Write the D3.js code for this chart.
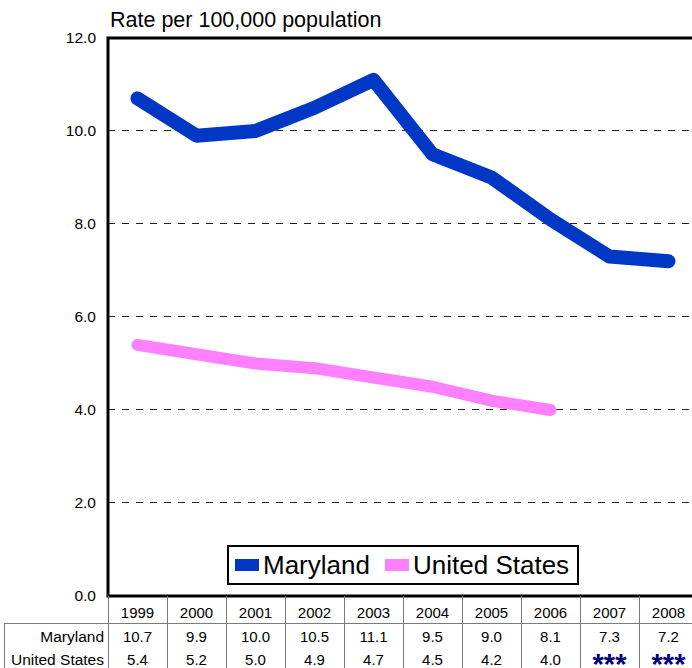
<!DOCTYPE html>
<html>
<head>
<meta charset="utf-8">
<script src="https://cdn.jsdelivr.net/npm/d3@7"></script>
<style>
  html, body { margin: 0; padding: 0; background: #fff; }
  svg { display: block; font-family: "Liberation Sans", Arial, sans-serif; }
</style>
</head>
<body>
<svg id="chart" width="692" height="668"></svg>
<script>
// Data
const years = ["1999","2000","2001","2002","2003","2004","2005","2006","2007","2008"];
const marylandRates = [10.7, 9.9, 10.0, 10.5, 11.1, 9.5, 9.0, 8.1, 7.3, 7.2];
const usRates = [5.4, 5.2, 5.0, 4.9, 4.7, 4.5, 4.2, 4.0, null, null];
const yTicks = [0, 2, 4, 6, 8, 10, 12];
const seriesNames = ["Maryland", "United States"];
const seriesColors = ["#0037c4", "#ff80ff"];

const svg = d3.select("#chart");
const plot = { left: 108, right: 698, top: 38, bottom: 596 };

const x = d3.scaleBand().domain(years).range([plot.left, plot.right]);
const y = d3.scaleLinear().domain([0, 12]).range([plot.bottom, plot.top]);
const cx = d => x(d) + x.bandwidth() / 2;

// Dashed gridlines
svg.append("g")
  .selectAll("line")
  .data(yTicks.filter(t => t > 0 && t < 12))
  .join("line")
  .attr("x1", plot.left).attr("x2", plot.right)
  .attr("y1", d => Math.round(y(d)) - 0.5).attr("y2", d => Math.round(y(d)) - 0.5)
  .attr("stroke", "#222").attr("stroke-width", 1)
  .attr("stroke-dasharray", "7,7");

// Y-axis labels
const yAxis = d3.axisLeft(y).tickValues(yTicks).tickFormat(d3.format(".1f")).tickSize(0).tickPadding(12);
const yg = svg.append("g").attr("transform", `translate(${plot.left},0)`).call(yAxis);
yg.select(".domain").remove();
yg.selectAll("text").attr("font-size", 15.5).attr("fill", "#000")
  .attr("font-family", "Liberation Sans, Arial, sans-serif");

// Plot frame (left, top, bottom)
svg.append("path")
  .attr("d", `M${plot.right + 10},${plot.top} H${plot.left} V${plot.bottom} H${plot.right + 10}`)
  .attr("fill", "none").attr("stroke", "#000").attr("stroke-width", 3);

// Title
svg.append("text").attr("x", 110).attr("y", 27)
  .attr("font-size", 21.5).text("Rate per 100,000 population");

// Series lines
const line = d3.line()
  .defined(d => d.v != null)
  .x(d => cx(d.year)).y(d => y(d.v));

const seriesData = [marylandRates, usRates].map(arr => years.map((yr, i) => ({ year: yr, v: arr[i] })));
const widths = [14, 12];
seriesData.forEach((data, i) => {
  svg.append("path").datum(data)
    .attr("d", line)
    .attr("fill", "none")
    .attr("stroke", seriesColors[i])
    .attr("stroke-width", widths[i])
    .attr("stroke-linecap", "round")
    .attr("stroke-linejoin", "round");
});

// Legend
const lg = svg.append("g");
lg.append("rect").attr("x", 228).attr("y", 546).attr("width", 350).attr("height", 38)
  .attr("fill", "#fff").attr("stroke", "#000").attr("stroke-width", 2);
const legendX = [235, 385];
seriesNames.forEach((name, i) => {
  lg.append("rect").attr("x", legendX[i]).attr("y", 559).attr("width", 24).attr("height", 12)
    .attr("fill", seriesColors[i]);
  lg.append("text").attr("x", legendX[i] + 28).attr("y", 574)
    .attr("font-size", 26).text(name);
});

// Data table
const tbl = svg.append("g");
const gridColor = "#7a7a7a";
// Column separators
tbl.selectAll("line.col")
  .data(years)
  .join("line")
  .attr("class", "col")
  .attr("x1", d => Math.round(x(d)) + 0.5).attr("x2", d => Math.round(x(d)) + 0.5)
  .attr("y1", plot.bottom).attr("y2", 668)
  .attr("stroke", gridColor).attr("stroke-width", 1);
// Row rule under header and left edge of row labels
tbl.append("line").attr("x1", 4).attr("x2", 692).attr("y1", 623.5).attr("y2", 623.5)
  .attr("stroke", gridColor).attr("stroke-width", 1);
tbl.append("line").attr("x1", 4.5).attr("x2", 4.5).attr("y1", 623).attr("y2", 668)
  .attr("stroke", gridColor).attr("stroke-width", 1);

// Header years
tbl.selectAll("text.yr")
  .data(years)
  .join("text")
  .attr("class", "yr")
  .attr("x", d => cx(d)).attr("y", 618)
  .attr("text-anchor", "middle").attr("font-size", 15)
  .text(d => d);

// Row labels and values
const rows = [marylandRates, usRates];
const rowY = [642, 665];
seriesNames.forEach((name, r) => {
  tbl.append("text").attr("x", 104).attr("y", rowY[r])
    .attr("text-anchor", "end").attr("font-size", 15.5).text(name);
  years.forEach((yr, i) => {
    const v = rows[r][i];
    if (v == null) {
      tbl.append("text").attr("x", cx(yr)).attr("y", 674)
        .attr("text-anchor", "middle").attr("font-size", 29).attr("font-weight", "bold")
        .attr("fill", "#00007a").text("***");
    } else {
      tbl.append("text").attr("x", cx(yr)).attr("y", rowY[r])
        .attr("text-anchor", "middle").attr("font-size", 15).text(d3.format(".1f")(v));
    }
  });
});
</script>
</body>
</html>
